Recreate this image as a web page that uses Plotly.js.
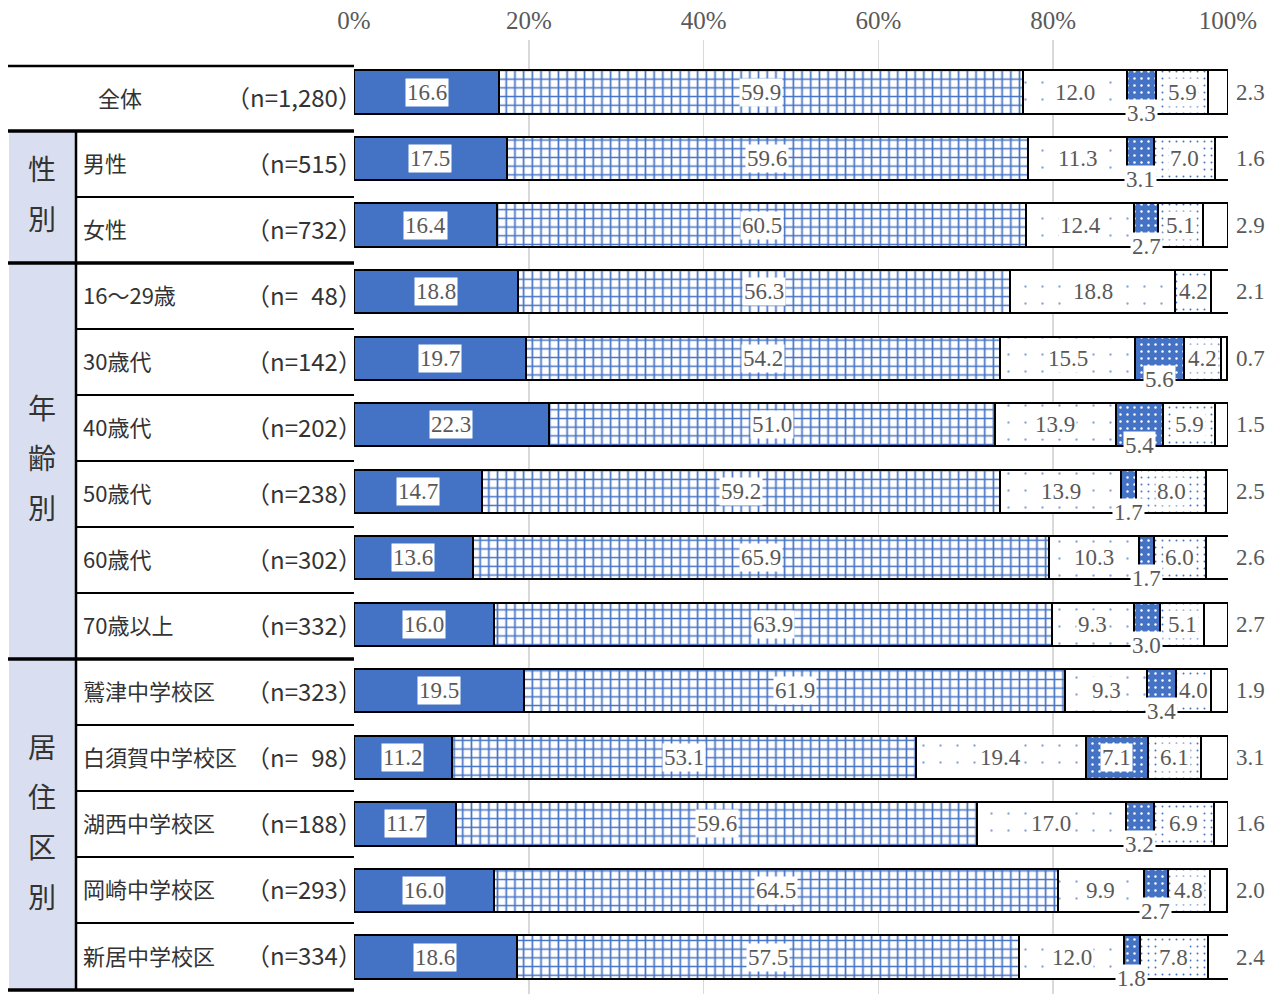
<!DOCTYPE html>
<html><head><meta charset="utf-8">
<script src="https://cdn.plot.ly/plotly-3.0.1.min.js"></script>
<style>html,body{margin:0;padding:0;background:#fff}</style>
</head><body><div id="chart" style="width:1279px;height:994px"></div>
<script>
// ---- data ----
const rowNames = ['全体','男性','女性','16～29歳','30歳代','40歳代','50歳代','60歳代','70歳以上','鷲津中学校区','白須賀中学校区','湖西中学校区','岡崎中学校区','新居中学校区'];
const rowN = ['（n=1,280）','（n=515）','（n=732）','（n=\u200748）','（n=142）','（n=202）','（n=238）','（n=302）','（n=332）','（n=323）','（n=\u200798）','（n=188）','（n=293）','（n=334）'];
const groupNames = ['性別','年齢別','居住区別'];
const groupFirstRow = [1,3,9];
const groupLastRow = [2,8,13];
const tickVals = [0,20,40,60,80,100];
const tickLabels = ['0%','20%','40%','60%','80%','100%'];

const s1 = [16.6,17.5,16.4,18.8,19.7,22.3,14.7,13.6,16.0,19.5,11.2,11.7,16.0,18.6];
const s2 = [59.9,59.6,60.5,56.3,54.2,51.0,59.2,65.9,63.9,61.9,53.1,59.6,64.5,57.5];
const s3 = [12.0,11.3,12.4,18.8,15.5,13.9,13.9,10.3,9.3,9.3,19.4,17.0,9.9,12.0];
const s4 = [3.3,3.1,2.7,0,5.6,5.4,1.7,1.7,3.0,3.4,7.1,3.2,2.7,1.8];
const s5 = [5.9,7.0,5.1,4.2,4.2,5.9,8.0,6.0,5.1,4.0,6.1,6.9,4.8,7.8];
const s6 = [2.3,1.6,2.9,2.1,0.7,1.5,2.5,2.6,2.7,1.9,3.1,1.6,2.0,2.4];
const series = [s1,s2,s3,s4,s5,s6];

// ---- geometry (pixels) ----
const X0 = 354, X1 = 1228, YT = 40, YB = 994;
const ROW0 = 92, PITCH = 66.54;
const tableLines = [66,131,197,263,329,395,461,527,593,659,725,791,857,923,990];
const px = p => (p - X0) / (X1 - X0);
const py = p => 1 - (p - YT) / (YB - YT);
const rowIdx = rowNames.map((_, i) => i);

const BLUE = '#4472C4';
const styles = [
  {color: BLUE},
  {color: '#fff', pattern: {shape: '+', fgcolor: BLUE, bgcolor: '#fff', size: 8.7, solidity: 0.35}},
  {color: '#fff', pattern: {shape: '.', fgcolor: '#8EA9DB', bgcolor: '#fff', size: 17, solidity: 0.015}},
  {color: BLUE, pattern: {shape: '.', fgcolor: '#fff', bgcolor: BLUE, size: 7, solidity: 0.1}},
  {color: '#fff', pattern: {shape: '.', fgcolor: BLUE, bgcolor: '#fff', size: 7, solidity: 0.06}},
  {color: '#fff'}
];

const traces = series.map((s, k) => ({
  type: 'bar', orientation: 'h', x: s, y: rowIdx, width: 0.65,
  marker: Object.assign({}, styles[k], {line: {color: '#000', width: 2}}),
  hoverinfo: 'skip', showlegend: false
}));

const annotations = [];
const labelFont = {family: 'Liberation Serif, serif', size: 23, color: '#595959'};
series.forEach((s, k) => {
  s.forEach((v, i) => {
    if (v <= 0) return;
    let start = 0;
    for (let j = 0; j < k; j++) start += series[j][i];
    if (k === 5) {
      annotations.push({x: 100, y: i, xref: 'x', yref: 'y', text: v.toFixed(1), showarrow: false,
        xanchor: 'left', yanchor: 'middle', xshift: 6, font: labelFont});
    } else {
      annotations.push({x: start + v / 2, y: i, xref: 'x', yref: 'y', text: v.toFixed(1), showarrow: false,
        xanchor: 'center', yanchor: 'middle', font: labelFont, bgcolor: '#fff', borderpad: 1,
        yshift: (k === 3 && v < 6) ? -21 : 0});
    }
  });
});

// table text
const rowFont = {family: 'Noto Sans CJK JP', size: 22, color: '#333'};
const nFont = {family: 'Noto Sans CJK JP', size: 24, color: '#333'};
rowNames.forEach((name, i) => {
  const cy = (tableLines[i] + tableLines[i + 1]) / 2 - 2;
  if (i === 0) {
    annotations.push({x: px(120), y: py(cy), xref: 'paper', yref: 'paper', text: name, showarrow: false,
      xanchor: 'center', yanchor: 'middle', font: rowFont});
  } else {
    annotations.push({x: px(81), y: py(cy), xref: 'paper', yref: 'paper', text: name, showarrow: false,
      xanchor: 'left', yanchor: 'middle', font: rowFont});
  }
  annotations.push({x: px(364), y: py(cy), xref: 'paper', yref: 'paper', text: rowN[i], showarrow: false,
    xanchor: 'right', yanchor: 'middle', font: nFont});
});

const shapes = [];
groupNames.forEach((g, gi) => {
  const top = tableLines[groupFirstRow[gi]], bot = tableLines[groupLastRow[gi] + 1];
  shapes.push({type: 'rect', xref: 'paper', yref: 'paper', x0: px(9), x1: px(76), y0: py(top), y1: py(bot),
    fillcolor: '#D9DFF1', line: {width: 0}, layer: 'below'});
  const chars = Array.from(g);
  const c = (top + bot) / 2 - 4;
  chars.forEach((ch, k) => {
    annotations.push({x: px(42), y: py(c + (k - (chars.length - 1) / 2) * 50), xref: 'paper', yref: 'paper',
      text: ch, showarrow: false, xanchor: 'center', yanchor: 'middle',
      font: {family: 'Noto Sans CJK JP', size: 28, color: '#333'}});
  });
});
tableLines.forEach((yy, i) => {
  const thick = (i === 1 || i === 3 || i === 9 || i === 14);
  const full = thick || i === 0;
  shapes.push({type: 'line', xref: 'paper', yref: 'paper', x0: px(full ? 8 : 76), x1: px(354), y0: py(yy), y1: py(yy),
    line: {color: '#000', width: thick ? 3.5 : (i === 0 ? 2.5 : 2)}});
});
shapes.push({type: 'line', xref: 'paper', yref: 'paper', x0: px(76), x1: px(76), y0: py(131), y1: py(990), line: {color: '#000', width: 2.5}});

const layout = {
  width: 1279, height: 994,
  margin: {l: X0, r: 1279 - X1, t: YT, b: 994 - YB},
  barmode: 'stack', bargap: 0,
  paper_bgcolor: '#fff', plot_bgcolor: '#fff',
  xaxis: {range: [0, 100], side: 'top', tickvals: tickVals, ticktext: tickLabels, showgrid: true,
    gridcolor: '#D9D9D9', gridwidth: 1.5, zeroline: false, showline: false, ticks: '', ticklabelstandoff: 5,
    tickfont: {family: 'Liberation Serif, serif', size: 25, color: '#595959'}, fixedrange: true},
  yaxis: {range: [(YB - ROW0) / PITCH, -(ROW0 - YT) / PITCH], showticklabels: false, showgrid: false,
    zeroline: false, showline: false, fixedrange: true},
  shapes: shapes, annotations: annotations,
  font: {family: 'Noto Sans CJK JP'}
};
Plotly.newPlot('chart', traces, layout, {displayModeBar: false, staticPlot: true});
</script></body></html>
